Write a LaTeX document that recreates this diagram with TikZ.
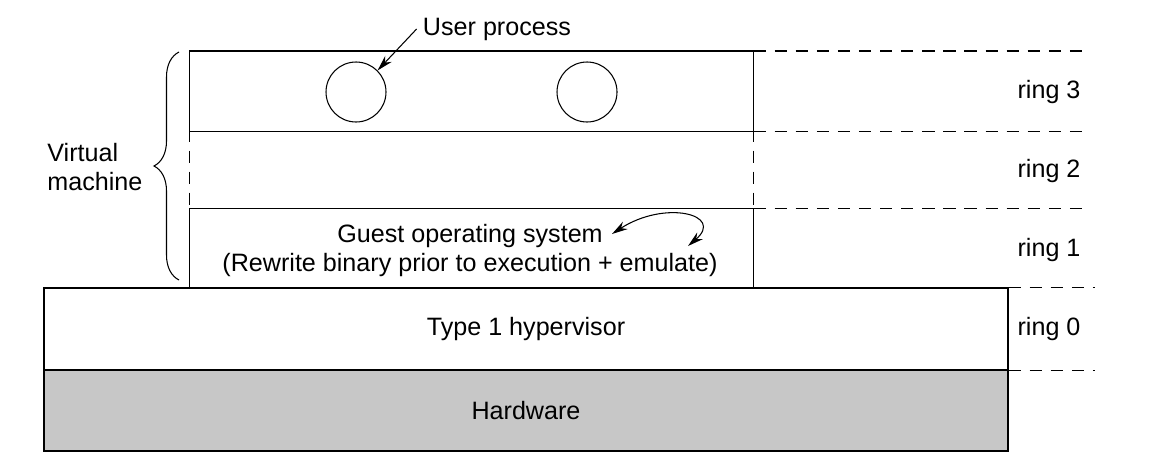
\documentclass[tikz,border=0pt]{standalone}
\usepackage{fontspec}
\setmainfont{Liberation Sans}
\usetikzlibrary{positioning, decorations.pathreplacing, arrows.meta}

\begin{document}
\begin{tikzpicture}[>={Stealth[length=9pt,width=5pt]},semithick,font=\fontsize{14.3}{16.5}\selectfont]
	\tikzset{layer/.style={draw, rectangle, inner sep=0pt, minimum width=19.28cm, minimum height=1.64cm},
		row/.style={rectangle, inner sep=0pt, minimum width=11.26cm, minimum height=1.58cm},
		proc/.style={draw, circle, minimum size=1.2cm, inner sep=0pt},
		ringline/.style={dashed, dash pattern=on 7pt off 5pt},
		ringlabel/.style={anchor=center}}
	\useasboundingbox (0,0) rectangle (23.1,9.34);
	% hardware and hypervisor
	\node[layer, fill=black!22, minimum height=1.62cm] (hw) at (10.52,1.13) {Hardware};
	\node[layer] (hv) at (10.52,2.76) {Type 1 hypervisor};
	% virtual machine rows
	\node[row] (r3) at (9.43,7.52) {};
	\node[row] (r2) at (9.43,5.95) {};
	\node[row] (r1) at (9.43,4.37) {};
	\draw (r3.south west) -- (r3.north west) -- (r3.north east) -- (r3.south east) -- cycle;
	\draw (r1.north west) -- (r1.south west) -- (r1.south east) -- (r1.north east) -- cycle;
	\draw[ringline] (r2.north west) -- (r2.south west);
	\draw[ringline] (r2.north east) -- (r2.south east);
	% ring boundaries
	\draw[ringline] (r3.north east) -- ++(6.68,0);
	\draw[ringline] (r3.south east) -- ++(6.68,0);
	\draw[ringline] (r1.north east) -- ++(6.68,0);
	\draw[ringline] (hv.north east) -- ++(1.72,0);
	\draw[ringline] (hv.south east) -- ++(1.72,0);
	\node[ringlabel] (l3) at (20.98,7.5) {ring 3};
	\node[ringlabel] (l2) at (20.98,5.93) {ring 2};
	\node[ringlabel] (l1) at (20.98,4.35) {ring 1};
	\node[ringlabel] (l0) at (20.98,2.76) {ring 0};
	% user processes
	\node[proc] (p1) at (7.12,7.5) {};
	\node[proc] (p2) at (11.74,7.5) {};
	\node (up) at (9.94,8.76) {User process};
	\draw[->] (up.west) -- (p1.north east);
	% guest operating system
	\node[align=center] (guest) at (9.4,4.34) {Guest operating system\\(Rewrite binary prior to execution + emulate)};
	\coordinate (gend) at (13.76,4.42);
	\draw[<->] (12.24,4.66) .. controls (13.3,5.35) and (14.5,5.05) .. (gend);
	% virtual machine brace
	\draw[decorate, decoration={brace, amplitude=0.5cm}] (3.58,3.74) -- (3.58,8.3);
	\node[align=left, anchor=west] (vm) at (0.82,6.0) {Virtual\\machine};
\end{tikzpicture}
\end{document}
